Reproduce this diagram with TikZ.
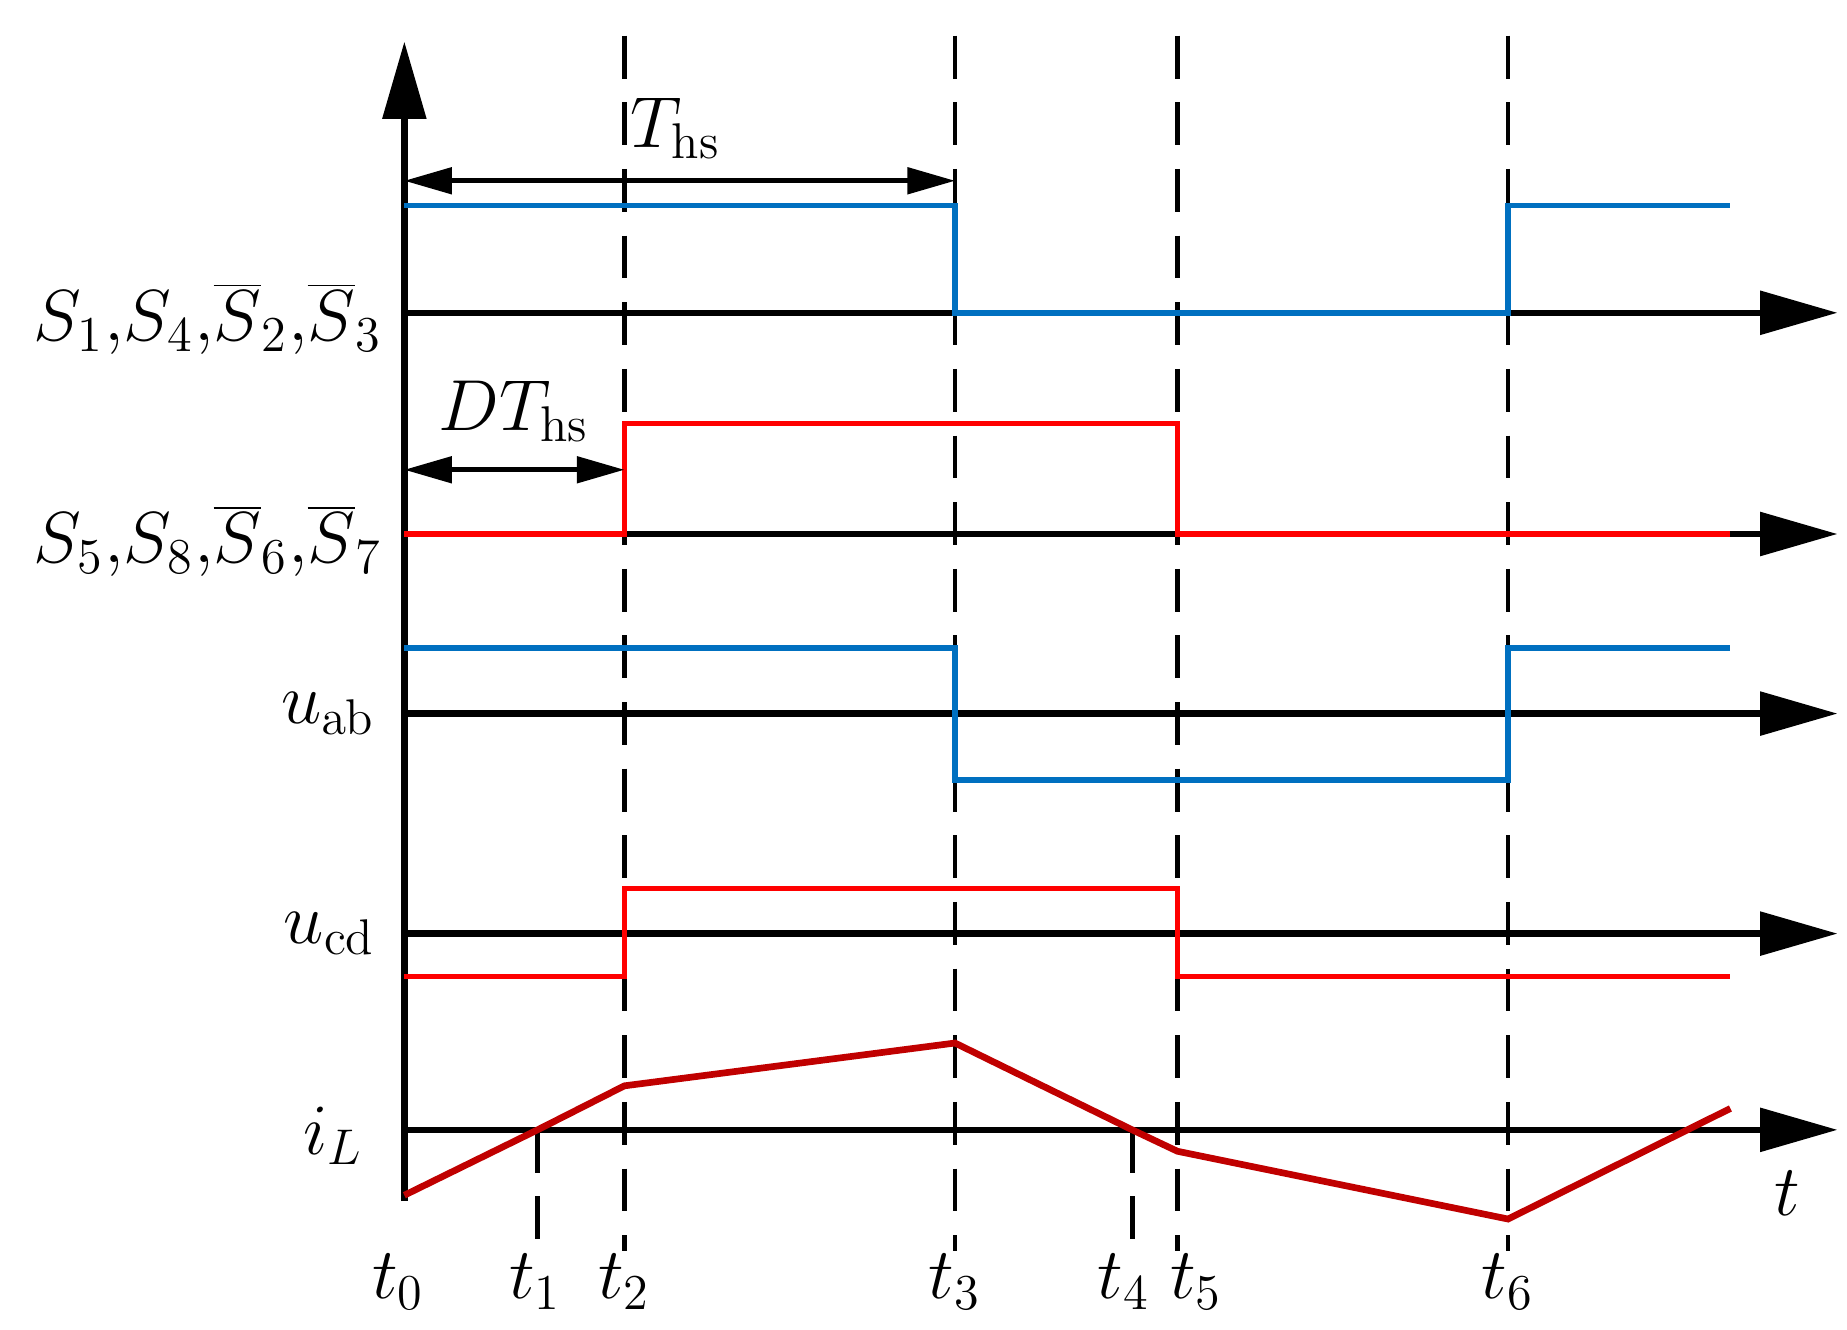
\documentclass[tikz,border=0pt]{standalone}
\usetikzlibrary{arrows.meta}
\definecolor{sblue}{RGB}{0,112,192}
\definecolor{sred}{RGB}{255,0,0}
\definecolor{dred}{RGB}{192,0,0}
\begin{document}
\begin{tikzpicture}[x=0.01cm,y=-0.01cm,
 axis/.style={line width=1.5pt,-{Triangle[length=0.65cm,width=0.36cm]}},
 dsh/.style={line width=1.1pt,dash pattern=on 0.36cm off 0.2cm},
 sig/.style={line width=1.3pt},
 dim/.style={line width=1.1pt,{Triangle[length=0.4cm,width=0.22cm]}-{Triangle[length=0.4cm,width=0.22cm]}},
 lbl/.style={font=\fontsize{18}{20}\selectfont},
 slbl/.style={font=\fontsize{16.5}{20}\selectfont,inner sep=0pt}]
\useasboundingbox (0,0) rectangle (1553,1118);
% dashed verticals
\foreach \x in {525,803,990,1268} \draw[dsh] (\x,30) -- (\x,1052);
\draw[dsh] (452,950) -- (452,1048);
\draw[dsh] (952,950) -- (952,1048);
% axes
\coordinate (o) at (340,1010);
\coordinate (top) at (340,35);
\draw[axis] (o) -- (top);
\foreach \y in {263,449,600,785,950} \draw[axis] (340,\y) -- (1545,\y);
% signals
\draw[sig,sblue] (340,173) -- (803,173) -- (803,263) -- (1268,263) -- (1268,173) -- (1455,173);
\draw[sig,sred] (340,449) -- (525,449) -- (525,356) -- (990,356) -- (990,449) -- (1455,449);
\draw[sig,sblue] (340,545) -- (803,545) -- (803,656) -- (1268,656) -- (1268,545) -- (1455,545);
\draw[sig,sred] (340,821) -- (525,821) -- (525,747) -- (990,747) -- (990,821) -- (1455,821);
\draw[sig,dred,line width=1.6pt] (340,1005) -- (452,950) -- (525,913) -- (803,877) -- (952,950) -- (990,968) -- (1268,1025) -- (1455,932);
% dimension arrows
\coordinate (a1) at (340,152); \coordinate (a2) at (803,152);
\draw[dim] (a1) -- (a2);
\node[lbl] (ths) at (568,108) {$T_{\mathrm{hs}}$};
\coordinate (b1) at (340,395); \coordinate (b2) at (525,395);
\draw[dim] (b1) -- (b2);
\node[lbl] (dths) at (432,346) {$DT_{\mathrm{hs}}$};
% labels
\node[slbl,anchor=east] (l1) at (322,268) {$S_1{,}S_4{,}\overline{S}_2{,}\overline{S}_3$};
\node[slbl,anchor=east] (l2) at (322,455) {$S_5{,}S_8{,}\overline{S}_6{,}\overline{S}_7$};
\node[lbl,anchor=east] (l3) at (328,600) {$u_{\mathrm{ab}}$};
\node[lbl,anchor=east] (l4) at (328,785) {$u_{\mathrm{cd}}$};
\node[lbl,anchor=east] (l5) at (318,955) {$i_L$};
\node[lbl] (tt) at (1503,1003) {$t$};
\node[lbl] at (335,1078) {$t_0$};
\node[lbl] at (450,1078) {$t_1$};
\node[lbl] at (525,1078) {$t_2$};
\node[lbl] at (803,1078) {$t_3$};
\node[lbl] at (945,1078) {$t_4$};
\node[lbl] at (1006,1078) {$t_5$};
\node[lbl] at (1268,1078) {$t_6$};
\end{tikzpicture}
\end{document}
